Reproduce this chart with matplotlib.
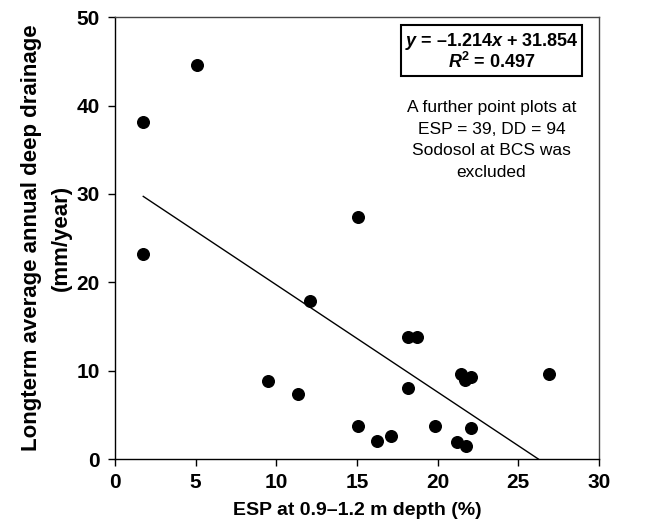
import matplotlib
matplotlib.use("Agg")
import matplotlib.pyplot as plt
import numpy as np

plt.rcParams['mathtext.fontset'] = 'custom'
plt.rcParams['mathtext.rm'] = 'Liberation Sans'
plt.rcParams['mathtext.it'] = 'Liberation Sans:italic'
plt.rcParams['mathtext.bf'] = 'Liberation Sans:bold'
plt.rcParams['mathtext.bfit'] = 'Liberation Sans:bold:italic'

esp = [1.75, 5.06, 1.75, 15.08, 12.09, 18.18, 18.7, 9.46, 11.32, 18.18, 21.43,
       21.7, 22.05, 26.9, 15.08, 16.24, 17.11, 19.86, 21.18, 21.76, 22.05]
dd = [38.1, 44.6, 23.2, 27.4, 17.9, 13.85, 13.85, 8.87, 7.33, 8.07, 9.63,
      8.95, 9.32, 9.59, 3.7, 2.07, 2.6, 3.7, 1.89, 1.44, 3.55]
slope, intercept = -1.214, 31.854
fit_x = [1.75, 26.24]

fam = 'Liberation Sans'
fig = plt.figure(figsize=(6.58, 5.25), dpi=100)
ax = fig.add_axes([0.1748, 0.1257, 0.7355, 0.8413])
ax.scatter(esp, dd, s=70, color='black', zorder=3)
fx = np.array(fit_x)
ax.plot(fx, slope * fx + intercept, color='black', lw=1.0)

ax.set_xlim(0, 30)
ax.set_ylim(0, 50)
ax.set_xticks(range(0, 31, 5))
ax.set_yticks(range(0, 51, 10))
ax.tick_params(direction='out', length=5, width=1, labelsize=15)
ax.tick_params(axis='y', pad=6)
ax.tick_params(axis='x', pad=5)
for lab in ax.get_xticklabels() + ax.get_yticklabels():
    lab.set_fontfamily(fam)
    lab.set_fontweight('bold')
for s in ax.spines.values():
    s.set_linewidth(1.0)
ax.spines['top'].set_color('#444444')
ax.spines['right'].set_color('#444444')

ax.set_xlabel('ESP at 0.9–1.2 m depth (%)', fontsize=14, fontweight='bold',
              family=fam, labelpad=7)
ax.set_ylabel('Longterm average annual deep drainage\n(mm/year)', fontsize=16,
              fontweight='bold', family=fam, labelpad=3, linespacing=1.55)

ax.text(0.778, 0.9226, '$\\mathbfit{y}$ = –1.214$\\mathbfit{x}$ + 31.854\n$\\mathbfit{R}^{\\mathbf{2}}$ = 0.497',
        transform=ax.transAxes, ha='center', va='center', fontsize=13,
        fontweight='bold', family=fam, linespacing=1.05,
        bbox=dict(boxstyle='square,pad=0.22', fc='white', ec='black', lw=1.5))
ax.text(0.778, 0.722, 'A further point plots at\nESP = 39, DD = 94\nSodosol at BCS was\nexcluded',
        transform=ax.transAxes, ha='center', va='center', fontsize=12.5,
        family=fam, linespacing=1.55)

fig.savefig('out.png', dpi=100)
